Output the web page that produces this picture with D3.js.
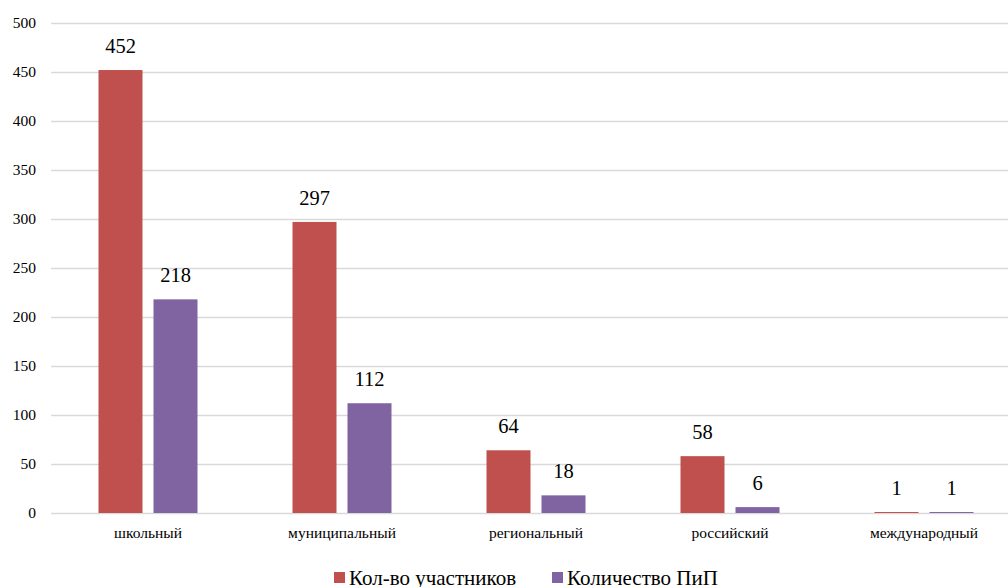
<!DOCTYPE html>
<html><head><meta charset="utf-8">
<script src="https://cdn.jsdelivr.net/npm/d3@7"></script>
<style>body{margin:0;background:#fff}svg{display:block}</style>
</head><body>
<svg id="c" width="1008" height="587"></svg>
<script>
const categories = ["школьный","муниципальный","региональный","российский","международный"];
const seriesNames = ["Кол-во участников","Количество ПиП"];
const participants = [452,297,64,58,1];
const pip = [218,112,18,6,1];
const yTicks = [0,50,100,150,200,250,300,350,400,450,500];
const colors = ["#c0504d","#8064a2"];
const FONT = "Liberation Serif";

const svg = d3.select("#c");
const y = d3.scaleLinear().domain([0,500]).range([513,23]);
const x0 = d3.scaleBand().domain(categories).range([51,1021]);
const bw = x0.bandwidth();
const x1 = d3.scaleBand().domain(seriesNames).range([bw/2-49.5, bw/2+49.5]).paddingInner(0.2);

const yAxis = svg.append("g").attr("transform","translate(51,0)")
  .call(d3.axisLeft(y).tickValues(yTicks).tickSize(-1008).tickPadding(14));
yAxis.attr("font-family", null).attr("font-size", null);
yAxis.select(".domain").remove();
yAxis.selectAll("line").attr("stroke","#d9d9d9").attr("stroke-width",1.5);
yAxis.selectAll("text").attr("font-family",FONT).attr("font-size","15.5px").attr("x",-15).attr("fill","#000");

const data = categories.map((c,i)=>({cat:c, vals:[participants[i], pip[i]]}));
const g = svg.selectAll("g.grp").data(data).enter().append("g")
  .attr("transform", d=>`translate(${x0(d.cat)},0)`);
g.selectAll("rect").data(d=>d.vals.map((v,j)=>({v, s:seriesNames[j], j}))).enter().append("rect")
  .attr("x", d=>x1(d.s)).attr("width", x1.bandwidth())
  .attr("y", d=>y(d.v)).attr("height", d=>y(0)-y(d.v))
  .attr("fill", d=>colors[d.j]);
g.selectAll("text.v").data(d=>d.vals.map((v,j)=>({v, s:seriesNames[j], j}))).enter().append("text")
  .attr("class","v").attr("font-family",FONT)
  .attr("x", d=>x1(d.s)+x1.bandwidth()/2).attr("y", d=>y(d.v)-17)
  .attr("text-anchor","middle").attr("font-size","20.5px").text(d=>d.v);

const xAxis = svg.append("g").attr("transform","translate(0,513)")
  .call(d3.axisBottom(x0).tickSize(0).tickPadding(14));
xAxis.attr("font-family", null).attr("font-size", null);
xAxis.select(".domain").remove();
xAxis.selectAll("text").attr("font-family",FONT).attr("font-size","15.5px").attr("fill","#000");

const legendX = [334, 552];
seriesNames.forEach((s,i)=>{
  svg.append("rect").attr("x",legendX[i]).attr("y",572).attr("width",11).attr("height",11).attr("fill",colors[i]);
  svg.append("text").attr("font-family",FONT).attr("x",legendX[i]+15).attr("y",585).attr("font-size","21px").text(s);
});
</script>
</body></html>
